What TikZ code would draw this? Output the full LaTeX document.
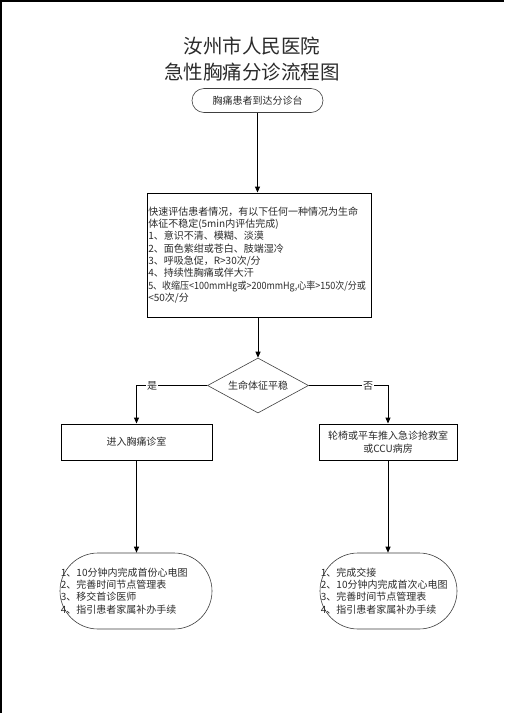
\documentclass[tikz,border=0pt]{standalone}
\usepackage{fontspec}
\setmainfont{Noto Sans CJK SC}
\usetikzlibrary{arrows.meta,shapes.geometric}
\definecolor{txt}{HTML}{2B2B2B}
\tikzset{
  every node/.style={text=txt},
  titletext/.style={font=\fontsize{19.5}{22}\selectfont, inner sep=0pt},
  small/.style={font=\fontsize{10}{12.3}\selectfont},
  termbox/.style={draw=black!75, line width=0.6pt, small, inner sep=0pt},
  procbox/.style={draw=black, line width=0.9pt, small, inner sep=0pt},
  decbox/.style={diamond, draw=black!75, line width=0.6pt, small, inner sep=0pt, aspect=1.84},
  arr/.style={draw=black, line width=0.9pt, -{Triangle[length=6pt,width=5pt]}},
  yesno/.style={small, fill=white, inner sep=1pt},
  listtext/.style={small, align=left, anchor=west, inner sep=0pt},
}
\begin{document}
\begin{tikzpicture}[x=1pt,y=-1pt]
\useasboundingbox (0,0) rectangle (504,713);
\fill[white] (0,0) rectangle (504,713);
\draw[line width=1.5pt] (1,713) -- (1,0.75) -- (504,0.75);

\node[titletext] (t1) at (252,46) {汝州市人民医院};
\node[titletext] (t2) at (252,72.5) {急性胸痛分诊流程图};

\node[termbox, minimum width=131pt, minimum height=24pt, rounded corners=12pt] (start) at (257.5,100.5) {胸痛患者到达分诊台};

\node[procbox, minimum width=224pt, minimum height=124pt] (assess) at (259,255) {};
\node[listtext] (assesstext) at ([xshift=1.5pt]assess.west) {快速评估患者情况，有以下任何一种情况为生命\\体征不稳定(5min内评估完成)\\1、意识不清、模糊、淡漠\\2、面色紫绀或苍白、肢端湿冷\\3、呼吸急促，R>30次/分\\4、持续性胸痛或伴大汗\\\scalebox{0.9}[1]{5、收缩压<100mmHg或>200mmHg,心率>150次/分或}\\<50次/分};

\node[decbox, minimum width=101pt, minimum height=55pt] (dia) at (258,385.5) {生命体征平稳};

\node[procbox, minimum width=151pt, minimum height=36pt] (lbox) at (136.5,442) {进入胸痛诊室};
\node[procbox, minimum width=138pt, minimum height=36pt, align=center] (rbox) at (388,442) {轮椅或平车推入急诊抢救室\\或CCU病房};

\node[termbox, minimum width=152pt, minimum height=76pt, rounded corners=38pt] (lterm) at (136,591) {};
\node[listtext] (ltermtext) at ([xshift=1pt]lterm.west) {1、10分钟内完成首份心电图\\2、完善时间节点管理表\\3、移交首诊医师\\4、指引患者家属补办手续};
\node[termbox, minimum width=137pt, minimum height=76pt, rounded corners=38pt] (rterm) at (388.5,591) {};
\node[listtext] (rtermtext) at ([xshift=1pt]rterm.west) {1、完成交接\\2、10分钟内完成首次心电图\\3、完善时间节点管理表\\4、指引患者家属补办手续};

\draw[arr] (start.south) -- (start.south |- assess.north);
\draw[arr] (dia.north |- assess.south) -- (dia.north);
\draw[arr] (dia.west) -| node[yesno, pos=0.39] (yes) {是} (lbox.north);
\draw[arr] (dia.east) -| node[yesno, pos=0.375] (no) {否} (rbox.north);
\draw[arr] (lbox.south) -- (lbox.south |- lterm.north);
\draw[arr] (rbox.south) -- (rbox.south |- rterm.north);
\end{tikzpicture}
\end{document}
